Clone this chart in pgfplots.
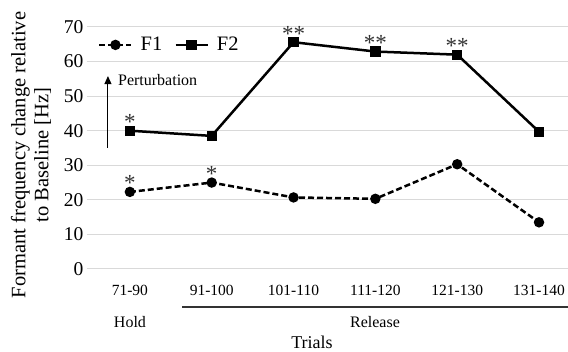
\documentclass[border=0pt]{standalone}
\usepackage{fontspec}
\setmainfont{Liberation Serif}
\usepackage{pgfplots}
\pgfplotsset{compat=1.18}
\usetikzlibrary{arrows.meta}
\begin{document}
\begin{tikzpicture}[x=1pt,y=1pt]
\useasboundingbox (-87pt,-83pt) rectangle (481pt,269pt);
\begin{axis}[
  at={(0pt,0pt)}, anchor=south west,
  scale only axis, width=481pt, height=242pt,
  xmin=-0.524, xmax=5.354, ymin=0, ymax=70,
  xtick={0,1,2,3,4,5},
  xticklabels={71-90,91-100,101-110,111-120,121-130,131-140},
  ytick={0,10,...,70},
  ymajorgrids, major grid style={draw=black!15, line width=1pt},
  axis line style={draw=none},
  tick style={draw=none},
  /pgf/number format/assume math mode=true,
  yticklabel style={font=\fontsize{19.5}{19.5}\selectfont, xshift=0pt},
  xticklabel style={font=\fontsize{15.5}{15.5}\selectfont, yshift=-13pt},
  clip=false,
  legend style={draw=none, fill=none, at={(rel axis cs:0.0229,0.926)}, anchor=west,
    legend columns=2, inner sep=0pt, font=\fontsize{20.5}{20.5}\selectfont,
    /tikz/every odd column/.append style={column sep=6pt},
    /tikz/every even column/.append style={column sep=10pt}},
  legend cell align=left,
  legend image code/.code={\draw[mark repeat=2,mark phase=2,#1] plot coordinates {(0pt,0pt) (16pt,0pt) (32pt,0pt)};},
]
\addplot[black, line width=2.5pt, dash pattern=on 6pt off 3pt, mark=*, mark size=3.9pt, mark options={solid}]
  coordinates {(0,22.3) (1,25.0) (2,20.7) (3,20.3) (4,30.3) (5,13.5)};
\addlegendentry{F1}
\addplot[black, line width=2.5pt, mark=square*, mark size=3.9pt, mark options={solid}]
  coordinates {(0,40.0) (1,38.5) (2,65.6) (3,62.9) (4,62.0) (5,39.7)};
\addlegendentry{F2}
\begin{scope}[every node/.style={font=\fontsize{23}{23}\selectfont, text=black!80, anchor=base, inner sep=0pt, yshift=1pt}]
\node at (axis cs:0,40.0) {*};
\node at (axis cs:0,22.3) {*};
\node at (axis cs:1,25.0) {*};
\node at (axis cs:2,65.6) {**};
\node at (axis cs:3,62.9) {**};
\node at (axis cs:4,62.0) {**};
\end{scope}
\draw[-{Triangle[length=8pt,width=7pt]}, line width=0.9pt] (axis cs:-0.268,35.0) -- (axis cs:-0.268,55.8);
\node[anchor=west, inner sep=0pt, font=\fontsize{16}{16}\selectfont] at (axis cs:-0.146,54.7) {Perturbation};
\end{axis}
\draw[black!80, line width=1.5pt] (95pt,-38pt) -- (481pt,-38pt);
\node[font=\fontsize{16}{16}\selectfont] at (43pt,-53pt) {Hold};
\node[font=\fontsize{16}{16}\selectfont] at (288pt,-53pt) {Release};
\node[font=\fontsize{18}{18}\selectfont, anchor=base, inner sep=0pt] at (225pt,-80pt) {Trials};
\node[rotate=90, align=center, font=\fontsize{20.5}{23}\selectfont] at (-56pt,114pt) {Formant frequency change relative\\to Baseline [Hz]};
\end{tikzpicture}
\end{document}
